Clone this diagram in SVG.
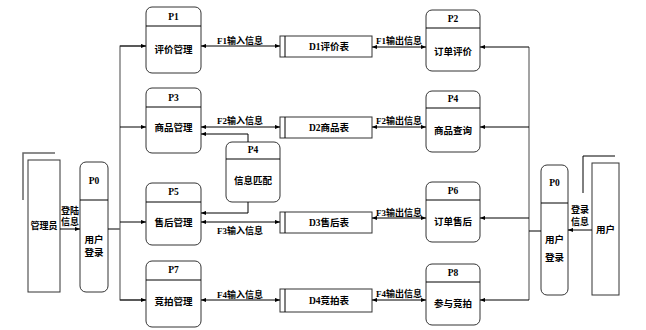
<svg xmlns="http://www.w3.org/2000/svg" width="646" height="330" viewBox="0 0 646 330">
<defs>
<marker id="ah" viewBox="0 0 6 6" refX="6" refY="3" markerWidth="5" markerHeight="5" orient="auto-start-reverse" markerUnits="userSpaceOnUse">
<path d="M0,0.5 L6,3 L0,5.5 Z" fill="#000"/>
</marker>
<style>
.box{fill:#fff;stroke:#333;stroke-width:1}
.ln{fill:none;stroke:#000;stroke-width:1}
.bus{fill:none;stroke:#666;stroke-width:1.2}
.gr{fill:none;stroke:#666;stroke-width:1.5}
text{font-family:"Liberation Serif","Noto Sans CJK SC",serif;font-size:9.5px;font-weight:bold;fill:#000;text-anchor:middle;dominant-baseline:central}
.lb{font-size:9px}
</style>
</defs>
<rect width="646" height="330" fill="#fff"/>

<g id="admin">
<path class="gr" d="M23,200 V153 H55"/>
<rect class="box" x="28" y="160" width="32" height="132"/>
<text class="lb" x="44" y="226">管理员</text>
</g>
<g id="P0L">
<rect class="box" x="80" y="162" width="28" height="130" rx="6"/>
<line class="ln" x1="80" y1="200" x2="108" y2="200"/>
<text x="94" y="181">P0</text>
<text x="94" y="240">用户</text>
<text x="94" y="253">登录</text>
</g>
<g id="P1">
<rect class="box" x="146" y="7" width="55" height="66" rx="6"/>
<line class="ln" x1="146" y1="26" x2="201" y2="26"/>
<text x="173.5" y="17">P1</text>
<text x="173.5" y="50">评价管理</text>
</g>
<g id="P3">
<rect class="box" x="146" y="88" width="55" height="65" rx="6"/>
<line class="ln" x1="146" y1="107" x2="201" y2="107"/>
<text x="173.5" y="98">P3</text>
<text x="173.5" y="128">商品管理</text>
</g>
<g id="P5">
<rect class="box" x="146" y="183" width="55" height="62" rx="6"/>
<line class="ln" x1="146" y1="202" x2="201" y2="202"/>
<text x="173.5" y="192">P5</text>
<text x="173.5" y="223">售后管理</text>
</g>
<g id="P7">
<rect class="box" x="146" y="261" width="55" height="66" rx="6"/>
<line class="ln" x1="146" y1="280" x2="201" y2="280"/>
<text x="173.5" y="270">P7</text>
<text x="173.5" y="302">竞拍管理</text>
</g>
<g id="P4M">
<rect class="box" x="226" y="142" width="54" height="60" rx="6"/>
<line class="ln" x1="226" y1="159" x2="280" y2="159"/>
<text x="253" y="150">P4</text>
<text x="253" y="181">信息匹配</text>
</g>
<g id="D1">
<rect class="box" x="280" y="36" width="92" height="21"/>
<line class="ln" x1="285" y1="36" x2="285" y2="57"/>
<text x="329" y="47">D1评价表</text>
</g>
<g id="D2">
<rect class="box" x="280" y="117" width="92" height="21"/>
<line class="ln" x1="285" y1="117" x2="285" y2="138"/>
<text x="329" y="128">D2商品表</text>
</g>
<g id="D3">
<rect class="box" x="280" y="212" width="92" height="21"/>
<line class="ln" x1="285" y1="212" x2="285" y2="233"/>
<text x="329" y="223">D3售后表</text>
</g>
<g id="D4">
<rect class="box" x="280" y="289" width="92" height="23"/>
<line class="ln" x1="285" y1="289" x2="285" y2="312"/>
<text x="329" y="301">D4竞拍表</text>
</g>
<g id="P2">
<rect class="box" x="426" y="10" width="54" height="61" rx="6"/>
<line class="ln" x1="426" y1="28" x2="480" y2="28"/>
<text x="453" y="19">P2</text>
<text x="453" y="52">订单评价</text>
</g>
<g id="P4R">
<rect class="box" x="426" y="91" width="54" height="61" rx="6"/>
<line class="ln" x1="426" y1="108" x2="480" y2="108"/>
<text x="453" y="99">P4</text>
<text x="453" y="131">商品查询</text>
</g>
<g id="P6">
<rect class="box" x="426" y="182" width="54" height="60" rx="6"/>
<line class="ln" x1="426" y1="200" x2="480" y2="200"/>
<text x="453" y="191">P6</text>
<text x="453" y="222">订单售后</text>
</g>
<g id="P8">
<rect class="box" x="426" y="264" width="54" height="61" rx="6"/>
<line class="ln" x1="426" y1="282" x2="480" y2="282"/>
<text x="453" y="273">P8</text>
<text x="453" y="304">参与竞拍</text>
</g>
<g id="P0R">
<rect class="box" x="541" y="165" width="27" height="130" rx="6"/>
<line class="ln" x1="541" y1="203" x2="568" y2="203"/>
<text x="554.5" y="183">P0</text>
<text x="554.5" y="240">用户</text>
<text x="554.5" y="258">登录</text>
</g>
<g id="user">
<path class="ln" d="M583,193 V156 H615"/>
<rect class="box" x="592" y="163" width="27" height="132"/>
<text x="605.5" y="230">用户</text>
</g>

<g id="connectors">
<line class="ln" x1="60" y1="229" x2="80" y2="229" marker-end="url(#ah)"/>
<line class="ln" x1="108" y1="229" x2="120" y2="229"/>
<path class="bus" d="M146,46 H120 V300 H146"/>
<line class="ln" x1="120" y1="46" x2="146" y2="46" marker-end="url(#ah)"/>
<line class="ln" x1="120" y1="127" x2="146" y2="127" marker-end="url(#ah)"/>
<line class="ln" x1="120" y1="222" x2="146" y2="222" marker-end="url(#ah)"/>
<line class="ln" x1="120" y1="300" x2="146" y2="300" marker-end="url(#ah)"/>

<line class="ln" x1="201" y1="46" x2="280" y2="46" marker-start="url(#ah)" marker-end="url(#ah)"/>
<line class="ln" x1="201" y1="127" x2="280" y2="127" marker-start="url(#ah)" marker-end="url(#ah)"/>
<line class="ln" x1="201" y1="222" x2="280" y2="222" marker-start="url(#ah)" marker-end="url(#ah)"/>
<line class="ln" x1="201" y1="300" x2="280" y2="300" marker-start="url(#ah)" marker-end="url(#ah)"/>

<path class="ln" d="M248,142 V134 H201" marker-end="url(#ah)"/>
<path class="ln" d="M248,202 V213 H201" marker-end="url(#ah)"/>

<line class="ln" x1="372" y1="47" x2="426" y2="47" marker-start="url(#ah)" marker-end="url(#ah)"/>
<line class="ln" x1="372" y1="127" x2="426" y2="127" marker-start="url(#ah)" marker-end="url(#ah)"/>
<line class="ln" x1="372" y1="218" x2="426" y2="218" marker-start="url(#ah)" marker-end="url(#ah)"/>
<line class="ln" x1="372" y1="300" x2="426" y2="300" marker-start="url(#ah)" marker-end="url(#ah)"/>

<path class="bus" d="M529,47 V300"/>
<line class="ln" x1="529" y1="47" x2="480" y2="47" marker-end="url(#ah)"/>
<line class="ln" x1="529" y1="127" x2="480" y2="127" marker-end="url(#ah)"/>
<line class="ln" x1="529" y1="218" x2="480" y2="218" marker-end="url(#ah)"/>
<line class="ln" x1="529" y1="300" x2="480" y2="300" marker-end="url(#ah)"/>
<line class="ln" x1="541" y1="231" x2="529" y2="231"/>
<line class="ln" x1="592" y1="230" x2="568" y2="230" marker-end="url(#ah)"/>

<text class="lb" x="70" y="211">登陆</text>
<text class="lb" x="70" y="222">信息</text>
<text class="lb" x="580" y="210">登录</text>
<text class="lb" x="580" y="222">信息</text>
<text class="lb" x="240" y="41">F1输入信息</text>
<text class="lb" x="399" y="41">F1输出信息</text>
<text class="lb" x="240" y="121">F2输入信息</text>
<text class="lb" x="399" y="121">F2输出信息</text>
<text class="lb" x="240" y="231">F3输入信息</text>
<text class="lb" x="399" y="213">F3输出信息</text>
<text class="lb" x="240" y="295">F4输入信息</text>
<text class="lb" x="399" y="294">F4输出信息</text>
</g>
</svg>
